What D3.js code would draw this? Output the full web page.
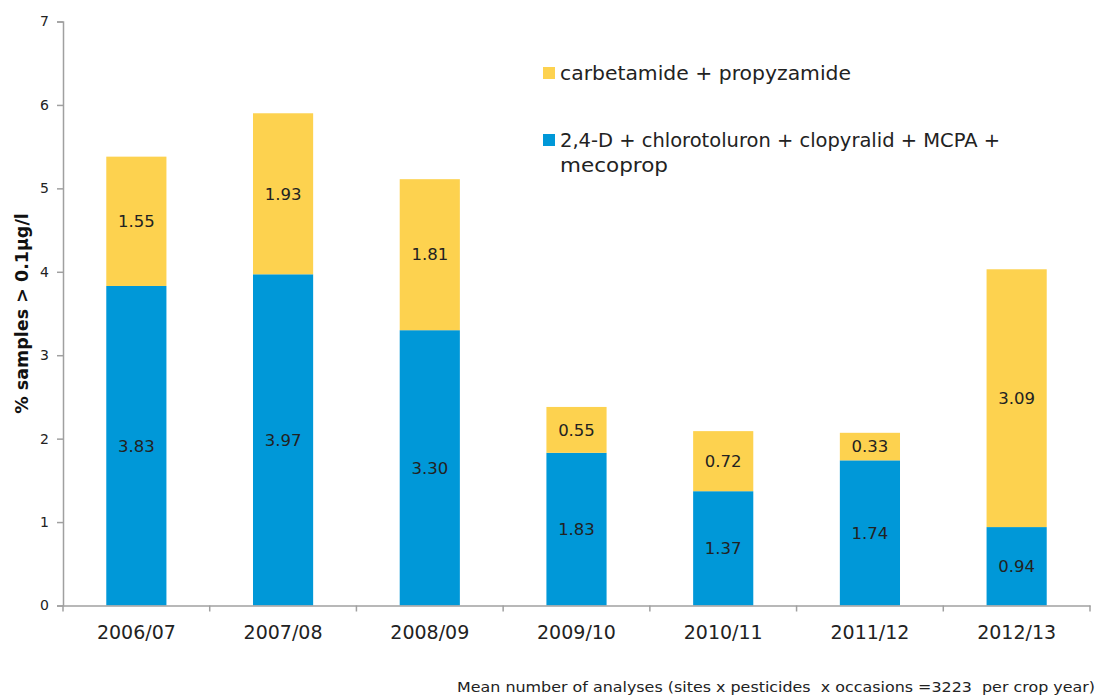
<!DOCTYPE html>
<html><head><meta charset="utf-8">
<script src="https://cdn.jsdelivr.net/npm/d3@7"></script>
<style>body{margin:0;background:#fff}svg{display:block}text{font-family:"DejaVu Sans",sans-serif}</style>
</head><body><svg id="c" width="1101" height="695"></svg>
<script>
const years = ["2006/07","2007/08","2008/09","2009/10","2010/11","2011/12","2012/13"];
const blueValues = [3.83,3.97,3.30,1.83,1.37,1.74,0.94];
const yellowValues = [1.55,1.93,1.81,0.55,0.72,0.33,3.09];
const yTicks = [0,1,2,3,4,5,6,7];
const seriesNames = ["carbetamide + propyzamide","2,4-D + chlorotoluron + clopyralid + MCPA + mecoprop"];
const seriesColors = ["#FDD24F","#0098D8"];

const svg = d3.select("#c");
const x = d3.scaleBand().domain(years).range([63,1090]).paddingInner(0.59).paddingOuter(0.295);
const y = d3.scaleLinear().domain([0,7]).range([605.5,21.5]);
const axisColor = "#a0a0a0";

// bars
const rows = years.map((yr,i)=>({yr, b:blueValues[i], t:yellowValues[i]}));
const g = svg.append("g");
rows.forEach(r=>{
  g.append("rect").attr("x",x(r.yr)).attr("width",x.bandwidth())
    .attr("y",y(r.b)).attr("height",y(0)-y(r.b)).attr("fill",seriesColors[1]);
  g.append("rect").attr("x",x(r.yr)).attr("width",x.bandwidth())
    .attr("y",y(r.b+r.t)).attr("height",y(r.b)-y(r.b+r.t)).attr("fill",seriesColors[0]);
  const cx = x(r.yr)+x.bandwidth()/2;
  g.append("text").attr("x",cx).attr("y",y(r.b/2)).attr("dy","0.35em").attr("text-anchor","middle")
    .attr("font-size",16.5).attr("fill","#222").text(r.b.toFixed(2));
  g.append("text").attr("x",cx).attr("y",y(r.b+r.t/2)).attr("dy","0.35em").attr("text-anchor","middle")
    .attr("font-size",16.5).attr("fill","#222").text(r.t.toFixed(2));
});

// y axis
const ya = svg.append("g").attr("transform","translate(63,0)")
  .call(d3.axisLeft(y).tickValues(yTicks).tickSize(6).tickPadding(8).tickFormat(d3.format("d")));
ya.select(".domain").attr("stroke",axisColor).attr("stroke-width",1.5);
ya.selectAll(".tick line").attr("stroke",axisColor).attr("stroke-width",1.5);
ya.selectAll(".tick text").attr("font-size",14).attr("fill","#222").attr("font-family","DejaVu Sans, sans-serif");

// x axis
const xa = svg.append("g").attr("transform",`translate(0,${y(0)})`)
  .call(d3.axisBottom(x).tickSize(0).tickPadding(20));
xa.select(".domain").attr("stroke",axisColor).attr("stroke-width",1.5);
xa.selectAll(".tick text").attr("font-size",19).attr("fill","#222").attr("font-family","DejaVu Sans, sans-serif");
const bounds = years.map(d=>x(d) - (x.step()-x.bandwidth())/2);
bounds.push(1090);
svg.append("g").selectAll("line").data(bounds).join("line")
  .attr("x1",d=>d).attr("x2",d=>d).attr("y1",y(0)).attr("y2",y(0)+6)
  .attr("stroke",axisColor).attr("stroke-width",1.5);

// y title
svg.append("text").attr("transform",`translate(28,${y(3.5)}) rotate(-90)`)
  .attr("text-anchor","middle").attr("font-size",17.5).attr("font-weight","bold").attr("fill","#111")
  .text("% samples > 0.1µg/l");

// legend
const lg = svg.append("g");
lg.append("rect").attr("x",543).attr("y",67).attr("width",12).attr("height",12).attr("fill",seriesColors[0]);
lg.append("text").attr("x",560).attr("y",80).attr("font-size",19).attr("fill","#222")
  .attr("textLength",291).attr("lengthAdjust","spacingAndGlyphs").text(seriesNames[0]);
lg.append("rect").attr("x",543).attr("y",134).attr("width",12).attr("height",12).attr("fill",seriesColors[1]);
lg.append("text").attr("x",560).attr("y",147).attr("font-size",19).attr("fill","#222")
  .attr("textLength",440).attr("lengthAdjust","spacingAndGlyphs").text("2,4-D + chlorotoluron + clopyralid + MCPA +");
lg.append("text").attr("x",560).attr("y",172).attr("font-size",19).attr("fill","#222")
  .attr("textLength",108).attr("lengthAdjust","spacingAndGlyphs").text("mecoprop");

// footnote
svg.append("text").attr("x",457).attr("y",692).attr("font-size",14).attr("fill","#222")
  .attr("xml:space","preserve").attr("textLength",638).attr("lengthAdjust","spacingAndGlyphs")
  .text("Mean number of analyses (sites x pesticides  x occasions =3223  per crop year)");
</script></body></html>
